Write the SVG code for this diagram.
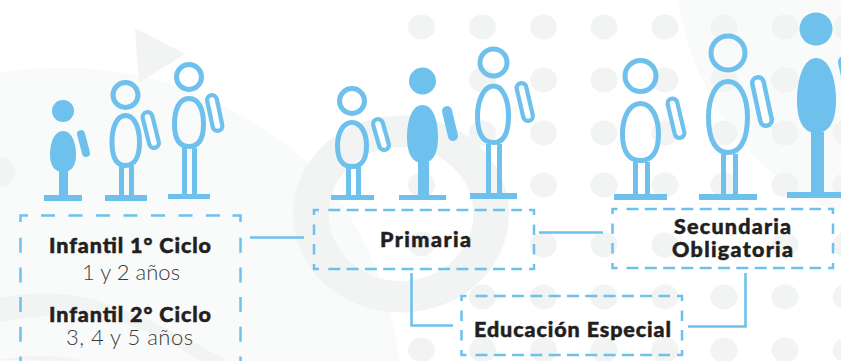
<svg xmlns="http://www.w3.org/2000/svg" width="841" height="361" viewBox="0 0 841 361">
<style>
.bg1{fill:#f9fafa}.bg2{fill:#f2f3f3}
.o{fill:none;stroke:#6ec1ec;stroke-width:5}
.f{fill:#6ec1ec}
.c{fill:none;stroke:#6ec1ec;stroke-width:2.5}
.d1{fill:none;stroke:#6ec1ec;stroke-width:2.5;stroke-dasharray:14 13.500}
.d2{fill:none;stroke:#6ec1ec;stroke-width:2.5;stroke-dasharray:15 14.700}
.d3{fill:none;stroke:#6ec1ec;stroke-width:2.5;stroke-dasharray:12 6.300}
.d4{fill:none;stroke:#6ec1ec;stroke-width:2.5;stroke-dasharray:10.500 9}
.con{fill:none;stroke:#6ec1ec;stroke-width:2.6}
.h{font-family:"Lato","Liberation Sans",sans-serif;font-weight:900;font-size:21.500px;fill:#231f20;stroke:#231f20;stroke-width:.5;text-anchor:middle}
.l{font-family:"Lato","Liberation Sans",sans-serif;font-weight:300;font-size:22px;fill:#3c3a3b;text-anchor:middle}
.arm{fill:none;stroke:#6ec1ec;stroke-linecap:round}
.in{fill:none;stroke:#fff;stroke-linecap:round}
</style>
<rect width="841" height="361" fill="#fff"/>
<g id="background">
<path class="bg1" d="M0 73C70 62 170 62 280 140C340 182 385 260 400 361H0Z"/>
<path class="bg1" d="M678 0H841V213C770 190 695 110 678 0Z"/>
<path class="bg2" d="M135 28L185 54L139 83Z"/>
<ellipse class="bg2" cx="0" cy="172" rx="15.500" ry="15"/>
<path class="bg2" d="M0 298C50 288 90 295 130 312C165 327 200 345 227 361H200C175 345 155 333 133 327C105 315 70 310 0 322Z"/>
<path class="bg2" d="M0 360C30 354 60 355 83 361Z"/>
<path class="bg2" fill-rule="evenodd" d="M293 214A108 98.500 0 1 1 509 214A108 98.500 0 1 1 293 214ZM328.500 214A72.500 67 0 1 0 473.500 214A72.500 67 0 1 0 328.500 214Z"/>
<g class="bg2">
<ellipse cx="421.500" cy="27" rx="13.500" ry="12.500"/><ellipse cx="482.500" cy="27" rx="13.500" ry="12.500"/><ellipse cx="543.500" cy="27" rx="13.500" ry="12.500"/><ellipse cx="604" cy="27" rx="13.500" ry="12.500"/><ellipse cx="665" cy="27" rx="13.500" ry="12.500"/><ellipse cx="724" cy="27" rx="13.500" ry="12.500"/><ellipse cx="785" cy="27" rx="13.500" ry="12.500"/><ellipse cx="846" cy="27" rx="13.500" ry="12.500"/>
<ellipse cx="482.500" cy="80" rx="13.500" ry="12.500"/><ellipse cx="543.500" cy="80" rx="13.500" ry="12.500"/><ellipse cx="604" cy="80" rx="13.500" ry="12.500"/><ellipse cx="665" cy="80" rx="13.500" ry="12.500"/><ellipse cx="724" cy="80" rx="13.500" ry="12.500"/><ellipse cx="785" cy="80" rx="13.500" ry="12.500"/>
<ellipse cx="482.500" cy="133" rx="13.500" ry="12.500"/><ellipse cx="543.500" cy="133" rx="13.500" ry="12.500"/><ellipse cx="604" cy="133" rx="13.500" ry="12.500"/><ellipse cx="665" cy="133" rx="13.500" ry="12.500"/><ellipse cx="724" cy="133" rx="13.500" ry="12.500"/><ellipse cx="785" cy="133" rx="13.500" ry="12.500"/><ellipse cx="846" cy="133" rx="13.500" ry="12.500"/>
<ellipse cx="421.500" cy="185" rx="13.500" ry="12.500"/><ellipse cx="482.500" cy="185" rx="13.500" ry="12.500"/><ellipse cx="543.500" cy="185" rx="13.500" ry="12.500"/><ellipse cx="604" cy="185" rx="13.500" ry="12.500"/><ellipse cx="665" cy="185" rx="13.500" ry="12.500"/><ellipse cx="724" cy="185" rx="13.500" ry="12.500"/><ellipse cx="785" cy="185" rx="13.500" ry="12.500"/><ellipse cx="846" cy="185" rx="13.500" ry="12.500"/>
<ellipse cx="421.500" cy="244" rx="13.500" ry="12.500"/><ellipse cx="543.500" cy="245" rx="13.500" ry="12.500"/><ellipse cx="604" cy="245" rx="13.500" ry="12.500"/><ellipse cx="665" cy="245" rx="13.500" ry="12.500"/><ellipse cx="785" cy="245" rx="13.500" ry="12.500"/><ellipse cx="846" cy="245" rx="13.500" ry="12.500"/>
<ellipse cx="482.500" cy="297" rx="13.500" ry="12.500"/><ellipse cx="543.500" cy="297" rx="13.500" ry="12.500"/><ellipse cx="604" cy="297" rx="13.500" ry="12.500"/><ellipse cx="665" cy="297" rx="13.500" ry="12.500"/><ellipse cx="724" cy="297" rx="13.500" ry="12.500"/><ellipse cx="785" cy="297" rx="13.500" ry="12.500"/><ellipse cx="846" cy="297" rx="13.500" ry="12.500"/>
<ellipse cx="421.500" cy="350" rx="13.500" ry="12.500"/><ellipse cx="482.500" cy="350" rx="13.500" ry="12.500"/><ellipse cx="543.500" cy="350" rx="13.500" ry="12.500"/><ellipse cx="604" cy="350" rx="13.500" ry="12.500"/><ellipse cx="665" cy="350" rx="13.500" ry="12.500"/><ellipse cx="724" cy="350" rx="13.500" ry="12.500"/><ellipse cx="785" cy="350" rx="13.500" ry="12.500"/><ellipse cx="846" cy="350" rx="13.500" ry="12.500"/>
</g>
</g>
<g id="figures">
<g id="p1" class="f"><circle cx="63" cy="111" r="11"/><path d="M63 131C72 131 76 143 76 155C76 166 71 172 63 172C55 172 50 166 50 155C50 143 54 131 63 131Z"/><rect x="59" y="170" width="9" height="26"/><rect x="44" y="195" width="38" height="6"/><path class="arm" stroke-width="8" d="M81 134L86 153"/></g>
<g id="p2"><circle class="o" cx="125.500" cy="95" r="12.500"/><path class="o" d="M125.500 115.500C134 115.500 139.500 127 139.500 142C139.500 158 134 165.500 125.500 165.500C117 165.500 112 158 112 142C112 127 117 115.500 125.500 115.500Z"/><path class="o" d="M121.500 166V196M131.500 166V196"/><rect class="f" x="105" y="195" width="42" height="6"/><path class="arm" stroke-width="14" d="M147.500 117L154 143"/><path class="in" stroke-width="5.500" d="M147.500 117L154 143"/></g>
<g id="p3"><circle class="o" cx="189" cy="77" r="12.500"/><path class="o" d="M189 98.500C199 98.500 203.500 110 203.500 124C203.500 140 198 146.500 189 146.500C180 146.500 174.500 140 174.500 124C174.500 110 179 98.500 189 98.500Z"/><path class="o" d="M184.500 148V194M194.500 148V194"/><rect class="f" x="168" y="194" width="42" height="5"/><path class="arm" stroke-width="14" d="M212 100L217.500 126"/><path class="in" stroke-width="5.500" d="M212 100L217.500 126"/></g>
<g id="p4"><circle class="o" cx="352" cy="101" r="12.500"/><path class="o" d="M352 122.500C361 122.500 366.500 133 366.500 146C366.500 160 361 166.500 352 166.500C343 166.500 337.500 160 337.500 146C337.500 133 343 122.500 352 122.500Z"/><path class="o" d="M348.500 167V195M358.500 167V195"/><rect class="f" x="331" y="195" width="43" height="5"/><path class="arm" stroke-width="14" d="M378 124L384 145"/><path class="in" stroke-width="5.500" d="M378 124L384 145"/></g>
<g id="p5" class="f"><circle cx="422.500" cy="81" r="13.500"/><path d="M422.500 105C433 105 438 120 438 137C438 155 432 163 422.500 163C413 163 407 155 407 137C407 120 412 105 422.500 105Z"/><rect x="418" y="162" width="11" height="34"/><rect x="399" y="195" width="47" height="5"/><path class="arm" stroke-width="10" d="M447 111L453 136"/></g>
<g id="p6"><circle class="o" cx="493.500" cy="62.500" r="13.500"/><path class="o" d="M493.500 86C503 86 508.500 100 508.500 116C508.500 135 503 142.500 493.500 142.500C484 142.500 477.500 135 477.500 116C477.500 100 484 86 493.500 86Z"/><path class="o" d="M488.500 144V193M499.500 144V193"/><rect class="f" x="470" y="193" width="47" height="6"/><path class="arm" stroke-width="14" d="M521.500 88L528 116"/><path class="in" stroke-width="5.500" d="M521.500 88L528 116"/></g>
<g id="p7"><circle class="o" cx="640.500" cy="76" r="15.500"/><path class="o" d="M640.500 103.500C652 103.500 658.500 118 658.500 134C658.500 153 651 160.500 640.500 160.500C630 160.500 622.500 153 622.500 134C622.500 118 629 103.500 640.500 103.500Z"/><path class="o" d="M635.500 162V195M647.500 162V195"/><rect class="f" x="614" y="194" width="53" height="6"/><path class="arm" stroke-width="14" d="M672.500 103.500L679.500 133"/><path class="in" stroke-width="5.500" d="M672.500 103.500L679.500 133"/></g>
<g id="p8"><circle class="o" cx="728" cy="53" r="17"/><path class="o" d="M728 81.500C741 81.500 747.500 99 747.500 117C747.500 142 739 152.500 728 152.500C717 152.500 708.500 142 708.500 117C708.500 99 715 81.500 728 81.500Z"/><path class="o" d="M723.500 154V195M735.500 154V195"/><rect class="f" x="699" y="194" width="58" height="6"/><path class="arm" stroke-width="16" d="M758 83L766 120"/><path class="in" stroke-width="7" d="M758 83L766 120"/></g>
<g id="p9" class="f"><circle cx="816" cy="29" r="16.500"/><path d="M816 58C829 58 836 78 836 100C836 122 829 133 816 133C804 133 797 122 797 100C797 78 804 58 816 58Z"/><rect x="811" y="132" width="13" height="61"/><rect x="787" y="192" width="54" height="6"/><path class="arm" stroke-width="12" d="M844 62L852 100"/></g>
</g>
<g id="connectors">
<path class="con" d="M250 237.500H304"/>
<path class="con" d="M411.500 273V325.500H453"/>
<path class="con" d="M539 232.500H603"/>
<path class="con" d="M745.500 273V326.500H688"/>
</g>
<g id="infantil">
<path class="c" d="M20.500 222V215.500H28M232.500 215.500H240.500V222"/>
<path class="d1" d="M41 215.500H225"/>
<path class="d2" d="M20.500 237.700V361M240.500 237.700V361"/>
<text class="h" x="130" y="253" textLength="162" lengthAdjust="spacing">Infantil 1° Ciclo</text>
<text class="l" x="131" y="280" textLength="98" lengthAdjust="spacing">1 y 2 años</text>
<text class="h" x="130" y="322" textLength="162" lengthAdjust="spacing">Infantil 2° Ciclo</text>
<text class="l" x="129.500" y="345" textLength="127" lengthAdjust="spacing">3, 4 y 5 años</text></g>
<g id="primaria">
<path class="c" d="M314 215V210H319M529 210H534V215M534 264V269H529M319 269H314V264"/>
<path class="d3" d="M328.300 210H522M328.300 269H522"/>
<path class="d4" d="M314 224.500V258M534 224.500V258"/>
<text class="h" x="425.500" y="247" textLength="91" lengthAdjust="spacing">Primaria</text></g>
<g id="secundaria">
<path class="c" d="M612.500 214V209H617.500M828 209H833V214M833 263V268H828M617.500 268H612.500V263"/>
<path class="d3" d="M626.500 209H821M626.500 268H821"/>
<path class="d4" d="M612.500 223.500V257M833 223.500V257"/>
<text class="h" x="732.500" y="234" textLength="117" lengthAdjust="spacing">Secundaria</text>
<text class="h" x="732.500" y="257" textLength="121" lengthAdjust="spacing">Obligatoria</text></g>
<g id="especial">
<path class="c" d="M461.500 301V296H466.500M677 296H682V301M682 350V355H677M466.500 355H461.500V350"/>
<path class="d3" d="M475.500 296H670M475.500 355H670"/>
<path class="d4" d="M461.500 310.500V344M682 310.500V344"/>
<text class="h" x="572.500" y="337" textLength="197" lengthAdjust="spacing">Educación Especial</text></g>
</svg>
